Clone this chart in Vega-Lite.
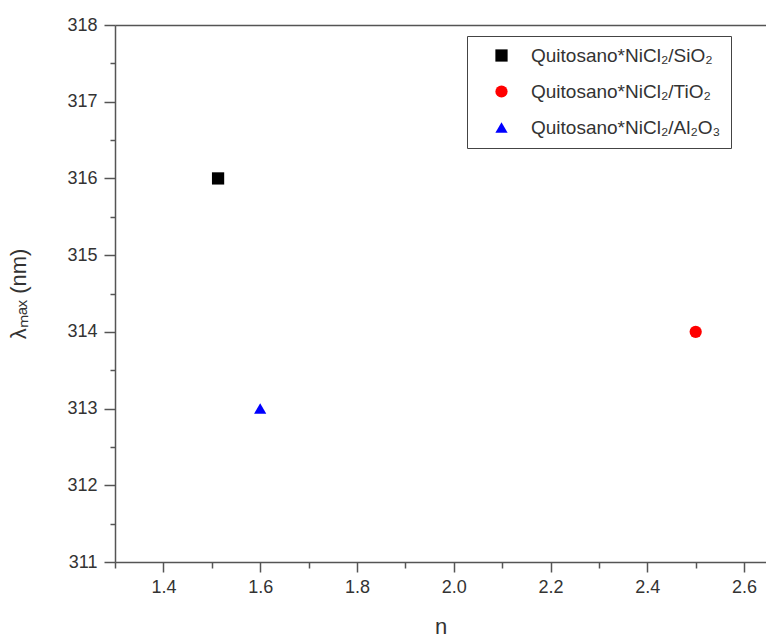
{
  "$schema": "https://vega.github.io/schema/vega-lite/v6.json",
  "autosize": "none",
  "padding": {"left": 115, "top": 25, "right": 0, "bottom": 82},
  "width": 651,
  "height": 537,
  "background": "white",
  "config": {
    "view": {"stroke": null},
    "font": "Liberation Sans",
    "axis": {
      "domainColor": "#555",
      "domainWidth": 1.5,
      "tickColor": "#555",
      "tickWidth": 1.5,
      "grid": false,
      "labelFont": "Liberation Sans",
      "labelColor": "#333",
      "labelFontSize": 18,
      "titleFont": "Liberation Sans",
      "titleColor": "#333",
      "titleFontWeight": "normal",
      "titleFontSize": 22
    }
  },
  "data": {
    "values": [
      {"n": 1.513, "lambda": 316, "series": "Quitosano*NiCl₂/SiO₂"},
      {"n": 2.5, "lambda": 314, "series": "Quitosano*NiCl₂/TiO₂"},
      {"n": 1.6, "lambda": 313, "series": "Quitosano*NiCl₂/Al₂O₃"}
    ]
  },
  "layer": [
    {
      "mark": {"type": "point", "filled": true, "opacity": 1, "size": 150},
      "encoding": {
        "x": {
          "field": "n",
          "type": "quantitative",
          "scale": {"domain": [1.3, 2.6453], "nice": false, "zero": false},
          "axis": {
            "orient": "bottom",
            "title": "n",
            "values": [1.3, 1.4, 1.5, 1.6, 1.7, 1.8, 1.9, 2.0, 2.1, 2.2, 2.3, 2.4, 2.5, 2.6],
            "labelExpr": "round(datum.value*10) % 2 === 0 ? format(datum.value, '.1f') : ''",
            "tickSize": {"condition": {"test": "round(datum.value*10) % 2 === 0", "value": 10}, "value": 6},
            "labelPadding": 6,
            "titlePadding": 20
          }
        },
        "y": {
          "field": "lambda",
          "type": "quantitative",
          "scale": {"domain": [311, 318], "nice": false, "zero": false},
          "axis": {
            "title": "λₘₐₓ (nm)",
            "values": [311, 311.5, 312, 312.5, 313, 313.5, 314, 314.5, 315, 315.5, 316, 316.5, 317, 317.5, 318],
            "labelExpr": "datum.value % 1 === 0 ? format(datum.value, 'd') : ''",
            "tickSize": {"condition": {"test": "datum.value % 1 === 0", "value": 11}, "value": 5},
            "labelPadding": 7,
            "titlePadding": 36
          }
        },
        "color": {
          "field": "series",
          "type": "nominal",
          "scale": {
            "domain": ["Quitosano*NiCl₂/SiO₂", "Quitosano*NiCl₂/TiO₂", "Quitosano*NiCl₂/Al₂O₃"],
            "range": ["#000000", "#ff0000", "#0000ff"]
          },
          "legend": {
            "title": null,
            "orient": "none",
            "legendX": 352,
            "legendY": 11,
            "strokeColor": "#444",
            "fillColor": "white",
            "padding": 10,
            "rowPadding": 16,
            "symbolSize": 150,
            "symbolOffset": 15,
            "labelOffset": 20,
            "labelFontSize": 19,
            "labelFont": "Liberation Sans",
            "labelColor": "#333",
            "labelLimit": 300
          }
        },
        "shape": {
          "field": "series",
          "type": "nominal",
          "scale": {
            "domain": ["Quitosano*NiCl₂/SiO₂", "Quitosano*NiCl₂/TiO₂", "Quitosano*NiCl₂/Al₂O₃"],
            "range": ["square", "circle", "triangle-up"]
          },
          "legend": null
        }
      }
    },
    {
      "mark": {"type": "point", "filled": true, "opacity": 0},
      "encoding": {
        "x": {
          "field": "n",
          "type": "quantitative",
          "scale": {"domain": [1.3, 2.6453], "nice": false, "zero": false},
          "axis": {"orient": "top", "labels": false, "ticks": false, "title": null}
        }
      }
    }
  ],
  "resolve": {"axis": {"x": "independent"}}
}
